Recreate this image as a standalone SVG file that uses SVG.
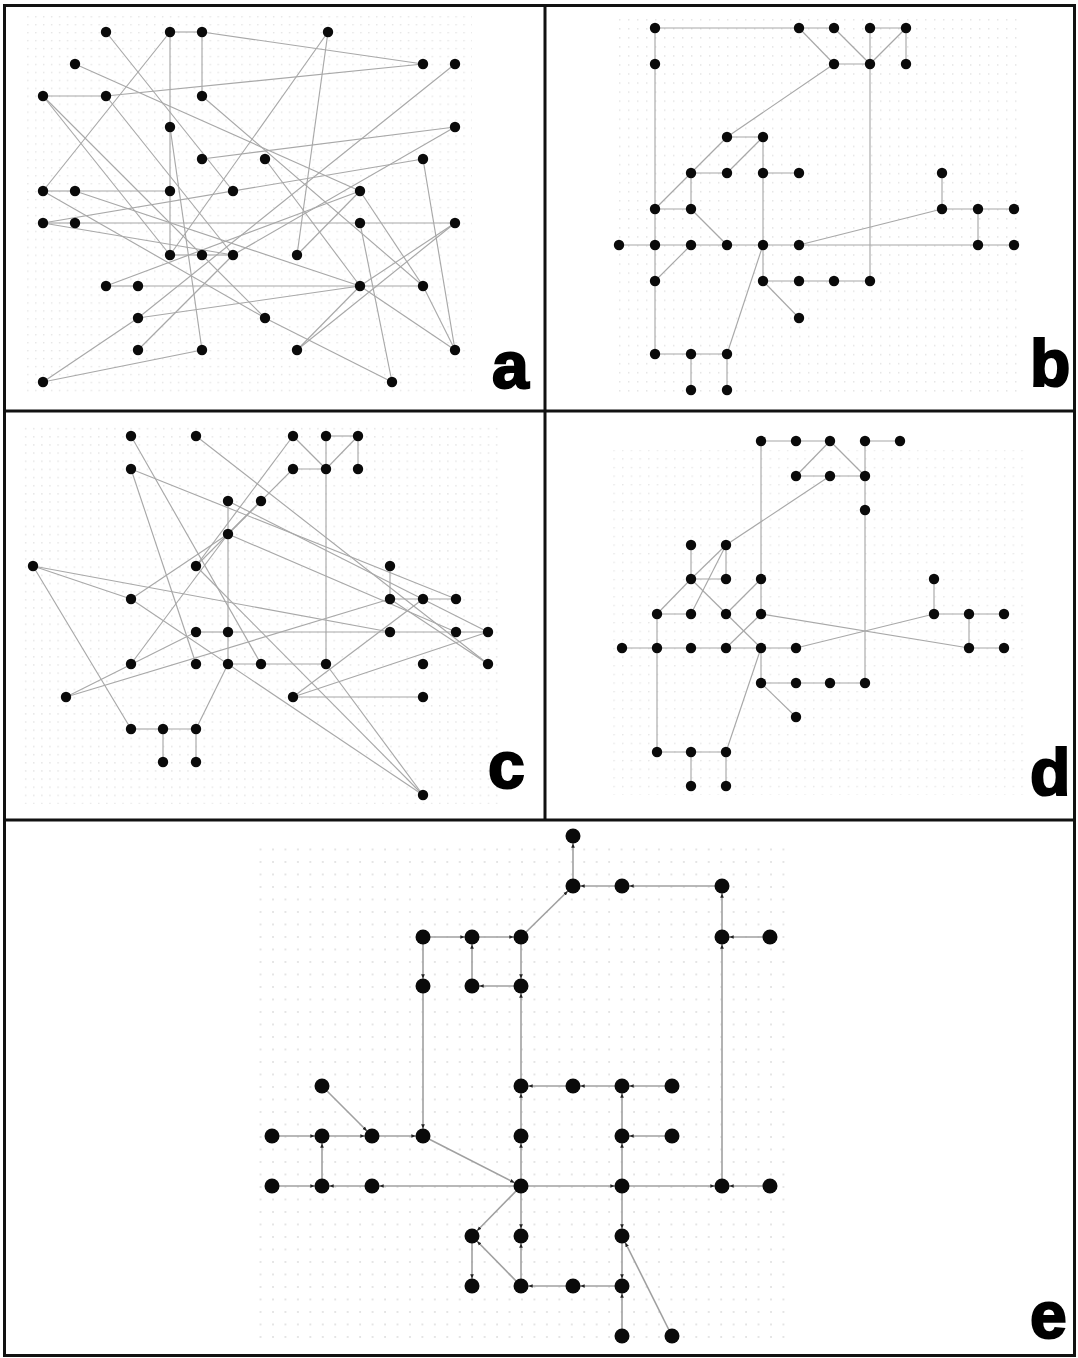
<svg xmlns="http://www.w3.org/2000/svg" width="1078" height="1358" viewBox="0 0 1078 1358">
<defs>
<style>
.ed{stroke:#a8a8a8;stroke-width:1.15;fill:none}
.ede{stroke:#a0a0a0;stroke-width:1.6;fill:none;marker-end:url(#arr)}
.nd circle{fill:#0a0a0a}
.lbl{font-family:"Liberation Sans",Arial,sans-serif;font-weight:bold;font-size:66px;fill:#000;stroke:#000;stroke-width:2.2}
.dv{stroke:#111;stroke-width:3}
</style>
<pattern id="pa" x="43" y="32" width="7.93" height="7.95" patternUnits="userSpaceOnUse"><circle cx="0.8" cy="0.8" r="0.7" fill="#dcdcdc"/></pattern>
<pattern id="pb" x="619" y="28" width="9" height="9.05" patternUnits="userSpaceOnUse"><circle cx="0.8" cy="0.8" r="0.7" fill="#dcdcdc"/></pattern>
<pattern id="pc" x="33" y="436" width="8.12" height="8.15" patternUnits="userSpaceOnUse"><circle cx="0.8" cy="0.8" r="0.7" fill="#dcdcdc"/></pattern>
<pattern id="pd" x="622" y="441" width="8.68" height="8.62" patternUnits="userSpaceOnUse"><circle cx="0.8" cy="0.8" r="0.7" fill="#dcdcdc"/></pattern>
<pattern id="pe" x="272" y="836" width="12.45" height="12.5" patternUnits="userSpaceOnUse"><circle cx="1" cy="1" r="0.9" fill="#dadada"/></pattern>
<marker id="arr" viewBox="0 0 10 10" refX="26" refY="5" markerWidth="4.5" markerHeight="4.5" markerUnits="userSpaceOnUse" orient="auto"><path d="M0,1 L10,5 L0,9 z" fill="#222"/></marker>
</defs>
<rect x="0" y="0" width="1078" height="1358" fill="#fff"/>
<g id="grids">
<rect x="22" y="16" width="450" height="380" fill="url(#pa)"/>
<rect x="612" y="18" width="412" height="378" fill="url(#pb)"/>
<rect x="20" y="426" width="482" height="378" fill="url(#pc)"/>
<rect x="612" y="450" width="412" height="345" fill="url(#pd)"/>
<rect x="255" y="842" width="535" height="505" fill="url(#pe)"/>
</g>
<g id="frame" fill="none">
<rect x="4.5" y="5.5" width="1070" height="1350" stroke="#111" stroke-width="3"/>
<line class="dv" x1="545" y1="5" x2="545" y2="820"/>
<line class="dv" x1="4" y1="411" x2="1075" y2="411"/>
<line class="dv" x1="4" y1="820" x2="1075" y2="820"/>
</g>

<g id="connectors-a" class="ed">
<line x1="170" y1="32" x2="202" y2="32"/>
<line x1="202" y1="32" x2="202" y2="96"/>
<line x1="170" y1="32" x2="170" y2="255"/>
<line x1="170" y1="32" x2="43" y2="191"/>
<line x1="106" y1="32" x2="233" y2="191"/>
<line x1="202" y1="32" x2="423" y2="64"/>
<line x1="75" y1="64" x2="360" y2="191"/>
<line x1="43" y1="96" x2="106" y2="96"/>
<line x1="106" y1="96" x2="423" y2="64"/>
<line x1="43" y1="96" x2="265" y2="318"/>
<line x1="43" y1="96" x2="170" y2="255"/>
<line x1="106" y1="96" x2="233" y2="255"/>
<line x1="202" y1="96" x2="423" y2="286"/>
<line x1="43" y1="191" x2="75" y2="191"/>
<line x1="75" y1="191" x2="170" y2="191"/>
<line x1="43" y1="223" x2="75" y2="223"/>
<line x1="75" y1="223" x2="360" y2="223"/>
<line x1="360" y1="223" x2="455" y2="223"/>
<line x1="170" y1="255" x2="202" y2="255"/>
<line x1="202" y1="255" x2="233" y2="255"/>
<line x1="106" y1="286" x2="138" y2="286"/>
<line x1="138" y1="286" x2="360" y2="286"/>
<line x1="360" y1="286" x2="423" y2="286"/>
<line x1="43" y1="382" x2="138" y2="318"/>
<line x1="43" y1="382" x2="202" y2="350"/>
<line x1="265" y1="318" x2="392" y2="382"/>
<line x1="328" y1="32" x2="170" y2="255"/>
<line x1="328" y1="32" x2="297" y2="255"/>
<line x1="455" y1="64" x2="138" y2="318"/>
<line x1="455" y1="127" x2="202" y2="159"/>
<line x1="455" y1="127" x2="233" y2="255"/>
<line x1="423" y1="159" x2="455" y2="350"/>
<line x1="360" y1="191" x2="423" y2="286"/>
<line x1="360" y1="191" x2="106" y2="286"/>
<line x1="360" y1="223" x2="392" y2="382"/>
<line x1="455" y1="223" x2="297" y2="350"/>
<line x1="423" y1="286" x2="455" y2="350"/>
<line x1="360" y1="286" x2="297" y2="350"/>
<line x1="360" y1="286" x2="455" y2="350"/>
<line x1="360" y1="286" x2="455" y2="223"/>
<line x1="138" y1="318" x2="360" y2="286"/>
<line x1="202" y1="350" x2="170" y2="127"/>
<line x1="138" y1="350" x2="233" y2="255"/>
<line x1="43" y1="191" x2="265" y2="318"/>
<line x1="75" y1="191" x2="360" y2="286"/>
<line x1="43" y1="223" x2="233" y2="255"/>
<line x1="265" y1="159" x2="360" y2="286"/>
<line x1="423" y1="159" x2="43" y2="223"/>
<line x1="297" y1="255" x2="360" y2="191"/>
</g>
<g id="nodes-a" class="nd">
<g id="a-n01"><circle cx="106" cy="32" r="5.2"/></g>
<g id="a-n02"><circle cx="170" cy="32" r="5.2"/></g>
<g id="a-n03"><circle cx="202" cy="32" r="5.2"/></g>
<g id="a-n04"><circle cx="328" cy="32" r="5.2"/></g>
<g id="a-n05"><circle cx="75" cy="64" r="5.2"/></g>
<g id="a-n06"><circle cx="423" cy="64" r="5.2"/></g>
<g id="a-n07"><circle cx="455" cy="64" r="5.2"/></g>
<g id="a-n08"><circle cx="43" cy="96" r="5.2"/></g>
<g id="a-n09"><circle cx="106" cy="96" r="5.2"/></g>
<g id="a-n10"><circle cx="202" cy="96" r="5.2"/></g>
<g id="a-n11"><circle cx="170" cy="127" r="5.2"/></g>
<g id="a-n12"><circle cx="455" cy="127" r="5.2"/></g>
<g id="a-n13"><circle cx="202" cy="159" r="5.2"/></g>
<g id="a-n14"><circle cx="265" cy="159" r="5.2"/></g>
<g id="a-n15"><circle cx="423" cy="159" r="5.2"/></g>
<g id="a-n16"><circle cx="43" cy="191" r="5.2"/></g>
<g id="a-n17"><circle cx="75" cy="191" r="5.2"/></g>
<g id="a-n18"><circle cx="170" cy="191" r="5.2"/></g>
<g id="a-n19"><circle cx="233" cy="191" r="5.2"/></g>
<g id="a-n20"><circle cx="360" cy="191" r="5.2"/></g>
<g id="a-n21"><circle cx="43" cy="223" r="5.2"/></g>
<g id="a-n22"><circle cx="75" cy="223" r="5.2"/></g>
<g id="a-n23"><circle cx="360" cy="223" r="5.2"/></g>
<g id="a-n24"><circle cx="455" cy="223" r="5.2"/></g>
<g id="a-n25"><circle cx="170" cy="255" r="5.2"/></g>
<g id="a-n26"><circle cx="202" cy="255" r="5.2"/></g>
<g id="a-n27"><circle cx="233" cy="255" r="5.2"/></g>
<g id="a-n28"><circle cx="297" cy="255" r="5.2"/></g>
<g id="a-n29"><circle cx="106" cy="286" r="5.2"/></g>
<g id="a-n30"><circle cx="138" cy="286" r="5.2"/></g>
<g id="a-n31"><circle cx="360" cy="286" r="5.2"/></g>
<g id="a-n32"><circle cx="423" cy="286" r="5.2"/></g>
<g id="a-n33"><circle cx="138" cy="318" r="5.2"/></g>
<g id="a-n34"><circle cx="265" cy="318" r="5.2"/></g>
<g id="a-n35"><circle cx="138" cy="350" r="5.2"/></g>
<g id="a-n36"><circle cx="202" cy="350" r="5.2"/></g>
<g id="a-n37"><circle cx="297" cy="350" r="5.2"/></g>
<g id="a-n38"><circle cx="455" cy="350" r="5.2"/></g>
<g id="a-n39"><circle cx="43" cy="382" r="5.2"/></g>
<g id="a-n40"><circle cx="392" cy="382" r="5.2"/></g>
</g>
<text class="lbl" x="492" y="388">a</text>

<g id="connectors-b" class="ed">
<line x1="655" y1="28" x2="799" y2="28"/>
<line x1="655" y1="28" x2="655" y2="354"/>
<line x1="799" y1="28" x2="834" y2="28"/>
<line x1="799" y1="28" x2="834" y2="64"/>
<line x1="834" y1="28" x2="870" y2="64"/>
<line x1="870" y1="28" x2="906" y2="28"/>
<line x1="870" y1="28" x2="870" y2="281"/>
<line x1="906" y1="28" x2="906" y2="64"/>
<line x1="906" y1="28" x2="870" y2="64"/>
<line x1="834" y1="64" x2="870" y2="64"/>
<line x1="834" y1="64" x2="727" y2="137"/>
<line x1="727" y1="137" x2="763" y2="137"/>
<line x1="727" y1="137" x2="655" y2="209"/>
<line x1="763" y1="137" x2="727" y2="173"/>
<line x1="763" y1="137" x2="763" y2="281"/>
<line x1="691" y1="173" x2="727" y2="173"/>
<line x1="763" y1="173" x2="799" y2="173"/>
<line x1="691" y1="173" x2="691" y2="209"/>
<line x1="655" y1="209" x2="691" y2="209"/>
<line x1="691" y1="209" x2="727" y2="245"/>
<line x1="942" y1="173" x2="942" y2="209"/>
<line x1="942" y1="209" x2="1014" y2="209"/>
<line x1="978" y1="209" x2="978" y2="245"/>
<line x1="978" y1="245" x2="1014" y2="245"/>
<line x1="799" y1="245" x2="942" y2="209"/>
<line x1="619" y1="245" x2="799" y2="245"/>
<line x1="799" y1="245" x2="978" y2="245"/>
<line x1="655" y1="281" x2="691" y2="245"/>
<line x1="763" y1="281" x2="870" y2="281"/>
<line x1="763" y1="281" x2="799" y2="318"/>
<line x1="763" y1="245" x2="727" y2="354"/>
<line x1="655" y1="354" x2="727" y2="354"/>
<line x1="691" y1="354" x2="691" y2="390"/>
<line x1="727" y1="354" x2="727" y2="390"/>
</g>
<g id="nodes-b" class="nd">
<g id="b-n01"><circle cx="655" cy="28" r="5.2"/></g>
<g id="b-n02"><circle cx="799" cy="28" r="5.2"/></g>
<g id="b-n03"><circle cx="834" cy="28" r="5.2"/></g>
<g id="b-n04"><circle cx="870" cy="28" r="5.2"/></g>
<g id="b-n05"><circle cx="906" cy="28" r="5.2"/></g>
<g id="b-n06"><circle cx="655" cy="64" r="5.2"/></g>
<g id="b-n07"><circle cx="834" cy="64" r="5.2"/></g>
<g id="b-n08"><circle cx="870" cy="64" r="5.2"/></g>
<g id="b-n09"><circle cx="906" cy="64" r="5.2"/></g>
<g id="b-n10"><circle cx="727" cy="137" r="5.2"/></g>
<g id="b-n11"><circle cx="763" cy="137" r="5.2"/></g>
<g id="b-n12"><circle cx="691" cy="173" r="5.2"/></g>
<g id="b-n13"><circle cx="727" cy="173" r="5.2"/></g>
<g id="b-n14"><circle cx="763" cy="173" r="5.2"/></g>
<g id="b-n15"><circle cx="799" cy="173" r="5.2"/></g>
<g id="b-n16"><circle cx="942" cy="173" r="5.2"/></g>
<g id="b-n17"><circle cx="655" cy="209" r="5.2"/></g>
<g id="b-n18"><circle cx="691" cy="209" r="5.2"/></g>
<g id="b-n19"><circle cx="942" cy="209" r="5.2"/></g>
<g id="b-n20"><circle cx="978" cy="209" r="5.2"/></g>
<g id="b-n21"><circle cx="1014" cy="209" r="5.2"/></g>
<g id="b-n22"><circle cx="619" cy="245" r="5.2"/></g>
<g id="b-n23"><circle cx="655" cy="245" r="5.2"/></g>
<g id="b-n24"><circle cx="691" cy="245" r="5.2"/></g>
<g id="b-n25"><circle cx="727" cy="245" r="5.2"/></g>
<g id="b-n26"><circle cx="763" cy="245" r="5.2"/></g>
<g id="b-n27"><circle cx="799" cy="245" r="5.2"/></g>
<g id="b-n28"><circle cx="978" cy="245" r="5.2"/></g>
<g id="b-n29"><circle cx="1014" cy="245" r="5.2"/></g>
<g id="b-n30"><circle cx="655" cy="281" r="5.2"/></g>
<g id="b-n31"><circle cx="763" cy="281" r="5.2"/></g>
<g id="b-n32"><circle cx="799" cy="281" r="5.2"/></g>
<g id="b-n33"><circle cx="834" cy="281" r="5.2"/></g>
<g id="b-n34"><circle cx="870" cy="281" r="5.2"/></g>
<g id="b-n35"><circle cx="799" cy="318" r="5.2"/></g>
<g id="b-n36"><circle cx="655" cy="354" r="5.2"/></g>
<g id="b-n37"><circle cx="691" cy="354" r="5.2"/></g>
<g id="b-n38"><circle cx="727" cy="354" r="5.2"/></g>
<g id="b-n39"><circle cx="691" cy="390" r="5.2"/></g>
<g id="b-n40"><circle cx="727" cy="390" r="5.2"/></g>
</g>
<text class="lbl" x="1030" y="386">b</text>

<g id="connectors-c" class="ed">
<line x1="326" y1="436" x2="358" y2="436"/>
<line x1="358" y1="436" x2="358" y2="469"/>
<line x1="358" y1="436" x2="326" y2="469"/>
<line x1="293" y1="436" x2="326" y2="469"/>
<line x1="293" y1="469" x2="326" y2="469"/>
<line x1="326" y1="436" x2="326" y2="664"/>
<line x1="228" y1="664" x2="261" y2="664"/>
<line x1="261" y1="664" x2="326" y2="664"/>
<line x1="228" y1="501" x2="228" y2="664"/>
<line x1="196" y1="632" x2="228" y2="632"/>
<line x1="228" y1="632" x2="390" y2="632"/>
<line x1="390" y1="632" x2="456" y2="632"/>
<line x1="456" y1="632" x2="488" y2="632"/>
<line x1="390" y1="566" x2="390" y2="599"/>
<line x1="390" y1="599" x2="423" y2="599"/>
<line x1="423" y1="599" x2="456" y2="599"/>
<line x1="131" y1="729" x2="163" y2="729"/>
<line x1="163" y1="729" x2="196" y2="729"/>
<line x1="163" y1="729" x2="163" y2="762"/>
<line x1="196" y1="729" x2="196" y2="762"/>
<line x1="33" y1="566" x2="131" y2="729"/>
<line x1="33" y1="566" x2="390" y2="632"/>
<line x1="33" y1="566" x2="131" y2="599"/>
<line x1="196" y1="729" x2="228" y2="664"/>
<line x1="66" y1="697" x2="390" y2="599"/>
<line x1="131" y1="664" x2="228" y2="534"/>
<line x1="131" y1="599" x2="228" y2="534"/>
<line x1="131" y1="599" x2="423" y2="795"/>
<line x1="131" y1="436" x2="261" y2="664"/>
<line x1="131" y1="469" x2="196" y2="664"/>
<line x1="131" y1="469" x2="456" y2="599"/>
<line x1="196" y1="436" x2="488" y2="664"/>
<line x1="196" y1="566" x2="293" y2="436"/>
<line x1="196" y1="566" x2="423" y2="795"/>
<line x1="293" y1="697" x2="423" y2="599"/>
<line x1="293" y1="697" x2="488" y2="632"/>
<line x1="293" y1="697" x2="423" y2="697"/>
<line x1="261" y1="501" x2="228" y2="534"/>
<line x1="261" y1="501" x2="196" y2="566"/>
<line x1="228" y1="534" x2="293" y2="469"/>
<line x1="228" y1="534" x2="456" y2="632"/>
<line x1="228" y1="501" x2="488" y2="632"/>
<line x1="66" y1="697" x2="196" y2="632"/>
<line x1="326" y1="664" x2="423" y2="795"/>
<line x1="390" y1="599" x2="488" y2="664"/>
</g>
<g id="nodes-c" class="nd">
<g id="c-n01"><circle cx="131" cy="436" r="5.2"/></g>
<g id="c-n02"><circle cx="196" cy="436" r="5.2"/></g>
<g id="c-n03"><circle cx="293" cy="436" r="5.2"/></g>
<g id="c-n04"><circle cx="326" cy="436" r="5.2"/></g>
<g id="c-n05"><circle cx="358" cy="436" r="5.2"/></g>
<g id="c-n06"><circle cx="131" cy="469" r="5.2"/></g>
<g id="c-n07"><circle cx="293" cy="469" r="5.2"/></g>
<g id="c-n08"><circle cx="326" cy="469" r="5.2"/></g>
<g id="c-n09"><circle cx="358" cy="469" r="5.2"/></g>
<g id="c-n10"><circle cx="228" cy="501" r="5.2"/></g>
<g id="c-n11"><circle cx="261" cy="501" r="5.2"/></g>
<g id="c-n12"><circle cx="228" cy="534" r="5.2"/></g>
<g id="c-n13"><circle cx="33" cy="566" r="5.2"/></g>
<g id="c-n14"><circle cx="196" cy="566" r="5.2"/></g>
<g id="c-n15"><circle cx="390" cy="566" r="5.2"/></g>
<g id="c-n16"><circle cx="131" cy="599" r="5.2"/></g>
<g id="c-n17"><circle cx="390" cy="599" r="5.2"/></g>
<g id="c-n18"><circle cx="423" cy="599" r="5.2"/></g>
<g id="c-n19"><circle cx="456" cy="599" r="5.2"/></g>
<g id="c-n20"><circle cx="196" cy="632" r="5.2"/></g>
<g id="c-n21"><circle cx="228" cy="632" r="5.2"/></g>
<g id="c-n22"><circle cx="390" cy="632" r="5.2"/></g>
<g id="c-n23"><circle cx="456" cy="632" r="5.2"/></g>
<g id="c-n24"><circle cx="488" cy="632" r="5.2"/></g>
<g id="c-n25"><circle cx="131" cy="664" r="5.2"/></g>
<g id="c-n26"><circle cx="196" cy="664" r="5.2"/></g>
<g id="c-n27"><circle cx="228" cy="664" r="5.2"/></g>
<g id="c-n28"><circle cx="261" cy="664" r="5.2"/></g>
<g id="c-n29"><circle cx="326" cy="664" r="5.2"/></g>
<g id="c-n30"><circle cx="423" cy="664" r="5.2"/></g>
<g id="c-n31"><circle cx="488" cy="664" r="5.2"/></g>
<g id="c-n32"><circle cx="66" cy="697" r="5.2"/></g>
<g id="c-n33"><circle cx="293" cy="697" r="5.2"/></g>
<g id="c-n34"><circle cx="423" cy="697" r="5.2"/></g>
<g id="c-n35"><circle cx="131" cy="729" r="5.2"/></g>
<g id="c-n36"><circle cx="163" cy="729" r="5.2"/></g>
<g id="c-n37"><circle cx="196" cy="729" r="5.2"/></g>
<g id="c-n38"><circle cx="163" cy="762" r="5.2"/></g>
<g id="c-n39"><circle cx="196" cy="762" r="5.2"/></g>
<g id="c-n40"><circle cx="423" cy="795" r="5.2"/></g>
</g>
<text class="lbl" x="488" y="788">c</text>

<g id="connectors-d" class="ed">
<line x1="761" y1="441" x2="830" y2="441"/>
<line x1="865" y1="441" x2="900" y2="441"/>
<line x1="830" y1="441" x2="796" y2="476"/>
<line x1="830" y1="441" x2="865" y2="476"/>
<line x1="796" y1="476" x2="865" y2="476"/>
<line x1="865" y1="441" x2="865" y2="683"/>
<line x1="761" y1="441" x2="761" y2="614"/>
<line x1="830" y1="476" x2="726" y2="545"/>
<line x1="691" y1="545" x2="691" y2="579"/>
<line x1="726" y1="545" x2="726" y2="579"/>
<line x1="657" y1="614" x2="691" y2="579"/>
<line x1="691" y1="579" x2="726" y2="545"/>
<line x1="691" y1="614" x2="726" y2="545"/>
<line x1="691" y1="579" x2="726" y2="579"/>
<line x1="691" y1="579" x2="761" y2="648"/>
<line x1="761" y1="579" x2="726" y2="614"/>
<line x1="657" y1="614" x2="691" y2="614"/>
<line x1="761" y1="614" x2="969" y2="648"/>
<line x1="796" y1="648" x2="934" y2="614"/>
<line x1="934" y1="579" x2="934" y2="614"/>
<line x1="934" y1="614" x2="1004" y2="614"/>
<line x1="969" y1="614" x2="969" y2="648"/>
<line x1="969" y1="648" x2="1004" y2="648"/>
<line x1="622" y1="648" x2="796" y2="648"/>
<line x1="657" y1="614" x2="657" y2="752"/>
<line x1="726" y1="648" x2="761" y2="614"/>
<line x1="761" y1="648" x2="761" y2="683"/>
<line x1="761" y1="683" x2="865" y2="683"/>
<line x1="761" y1="683" x2="796" y2="717"/>
<line x1="761" y1="648" x2="726" y2="752"/>
<line x1="657" y1="752" x2="726" y2="752"/>
<line x1="691" y1="752" x2="691" y2="786"/>
<line x1="726" y1="752" x2="726" y2="786"/>
</g>
<g id="nodes-d" class="nd">
<g id="d-n01"><circle cx="761" cy="441" r="5.2"/></g>
<g id="d-n02"><circle cx="796" cy="441" r="5.2"/></g>
<g id="d-n03"><circle cx="830" cy="441" r="5.2"/></g>
<g id="d-n04"><circle cx="865" cy="441" r="5.2"/></g>
<g id="d-n05"><circle cx="900" cy="441" r="5.2"/></g>
<g id="d-n06"><circle cx="796" cy="476" r="5.2"/></g>
<g id="d-n07"><circle cx="830" cy="476" r="5.2"/></g>
<g id="d-n08"><circle cx="865" cy="476" r="5.2"/></g>
<g id="d-n09"><circle cx="865" cy="510" r="5.2"/></g>
<g id="d-n10"><circle cx="691" cy="545" r="5.2"/></g>
<g id="d-n11"><circle cx="726" cy="545" r="5.2"/></g>
<g id="d-n12"><circle cx="691" cy="579" r="5.2"/></g>
<g id="d-n13"><circle cx="726" cy="579" r="5.2"/></g>
<g id="d-n14"><circle cx="761" cy="579" r="5.2"/></g>
<g id="d-n15"><circle cx="934" cy="579" r="5.2"/></g>
<g id="d-n16"><circle cx="657" cy="614" r="5.2"/></g>
<g id="d-n17"><circle cx="691" cy="614" r="5.2"/></g>
<g id="d-n18"><circle cx="726" cy="614" r="5.2"/></g>
<g id="d-n19"><circle cx="761" cy="614" r="5.2"/></g>
<g id="d-n20"><circle cx="934" cy="614" r="5.2"/></g>
<g id="d-n21"><circle cx="969" cy="614" r="5.2"/></g>
<g id="d-n22"><circle cx="1004" cy="614" r="5.2"/></g>
<g id="d-n23"><circle cx="622" cy="648" r="5.2"/></g>
<g id="d-n24"><circle cx="657" cy="648" r="5.2"/></g>
<g id="d-n25"><circle cx="691" cy="648" r="5.2"/></g>
<g id="d-n26"><circle cx="726" cy="648" r="5.2"/></g>
<g id="d-n27"><circle cx="761" cy="648" r="5.2"/></g>
<g id="d-n28"><circle cx="796" cy="648" r="5.2"/></g>
<g id="d-n29"><circle cx="969" cy="648" r="5.2"/></g>
<g id="d-n30"><circle cx="1004" cy="648" r="5.2"/></g>
<g id="d-n31"><circle cx="761" cy="683" r="5.2"/></g>
<g id="d-n32"><circle cx="796" cy="683" r="5.2"/></g>
<g id="d-n33"><circle cx="830" cy="683" r="5.2"/></g>
<g id="d-n34"><circle cx="865" cy="683" r="5.2"/></g>
<g id="d-n35"><circle cx="796" cy="717" r="5.2"/></g>
<g id="d-n36"><circle cx="657" cy="752" r="5.2"/></g>
<g id="d-n37"><circle cx="691" cy="752" r="5.2"/></g>
<g id="d-n38"><circle cx="726" cy="752" r="5.2"/></g>
<g id="d-n39"><circle cx="691" cy="786" r="5.2"/></g>
<g id="d-n40"><circle cx="726" cy="786" r="5.2"/></g>
</g>
<text class="lbl" x="1030" y="795">d</text>

<g id="connectors-e" class="ede">
<line x1="573" y1="886" x2="573" y2="836"/>
<line x1="622" y1="886" x2="573" y2="886"/>
<line x1="722" y1="886" x2="622" y2="886"/>
<line x1="521" y1="937" x2="573" y2="886"/>
<line x1="423" y1="937" x2="472" y2="937"/>
<line x1="472" y1="937" x2="521" y2="937"/>
<line x1="423" y1="937" x2="423" y2="986"/>
<line x1="472" y1="986" x2="472" y2="937"/>
<line x1="521" y1="986" x2="472" y2="986"/>
<line x1="521" y1="937" x2="521" y2="986"/>
<line x1="521" y1="1086" x2="521" y2="986"/>
<line x1="423" y1="986" x2="423" y2="1136"/>
<line x1="722" y1="937" x2="722" y2="886"/>
<line x1="770" y1="937" x2="722" y2="937"/>
<line x1="722" y1="1186" x2="722" y2="937"/>
<line x1="322" y1="1086" x2="372" y2="1136"/>
<line x1="573" y1="1086" x2="521" y2="1086"/>
<line x1="622" y1="1086" x2="573" y2="1086"/>
<line x1="672" y1="1086" x2="622" y2="1086"/>
<line x1="521" y1="1136" x2="521" y2="1086"/>
<line x1="521" y1="1186" x2="521" y2="1136"/>
<line x1="622" y1="1136" x2="622" y2="1086"/>
<line x1="622" y1="1186" x2="622" y2="1136"/>
<line x1="672" y1="1136" x2="622" y2="1136"/>
<line x1="272" y1="1136" x2="322" y2="1136"/>
<line x1="322" y1="1136" x2="372" y2="1136"/>
<line x1="372" y1="1136" x2="423" y2="1136"/>
<line x1="322" y1="1186" x2="322" y2="1136"/>
<line x1="423" y1="1136" x2="521" y2="1186"/>
<line x1="272" y1="1186" x2="322" y2="1186"/>
<line x1="372" y1="1186" x2="322" y2="1186"/>
<line x1="521" y1="1186" x2="372" y2="1186"/>
<line x1="521" y1="1186" x2="622" y2="1186"/>
<line x1="622" y1="1186" x2="722" y2="1186"/>
<line x1="770" y1="1186" x2="722" y2="1186"/>
<line x1="521" y1="1186" x2="472" y2="1236"/>
<line x1="521" y1="1186" x2="521" y2="1236"/>
<line x1="521" y1="1286" x2="521" y2="1236"/>
<line x1="472" y1="1236" x2="472" y2="1286"/>
<line x1="521" y1="1286" x2="472" y2="1236"/>
<line x1="573" y1="1286" x2="521" y2="1286"/>
<line x1="622" y1="1286" x2="573" y2="1286"/>
<line x1="622" y1="1186" x2="622" y2="1236"/>
<line x1="622" y1="1236" x2="622" y2="1286"/>
<line x1="622" y1="1336" x2="622" y2="1286"/>
<line x1="672" y1="1336" x2="622" y2="1236"/>
</g>
<g id="nodes-e" class="nd">
<g id="e-n01"><circle cx="573" cy="836" r="7.5"/></g>
<g id="e-n02"><circle cx="573" cy="886" r="7.5"/></g>
<g id="e-n03"><circle cx="622" cy="886" r="7.5"/></g>
<g id="e-n04"><circle cx="722" cy="886" r="7.5"/></g>
<g id="e-n05"><circle cx="423" cy="937" r="7.5"/></g>
<g id="e-n06"><circle cx="472" cy="937" r="7.5"/></g>
<g id="e-n07"><circle cx="521" cy="937" r="7.5"/></g>
<g id="e-n08"><circle cx="722" cy="937" r="7.5"/></g>
<g id="e-n09"><circle cx="770" cy="937" r="7.5"/></g>
<g id="e-n10"><circle cx="423" cy="986" r="7.5"/></g>
<g id="e-n11"><circle cx="472" cy="986" r="7.5"/></g>
<g id="e-n12"><circle cx="521" cy="986" r="7.5"/></g>
<g id="e-n13"><circle cx="322" cy="1086" r="7.5"/></g>
<g id="e-n14"><circle cx="521" cy="1086" r="7.5"/></g>
<g id="e-n15"><circle cx="573" cy="1086" r="7.5"/></g>
<g id="e-n16"><circle cx="622" cy="1086" r="7.5"/></g>
<g id="e-n17"><circle cx="672" cy="1086" r="7.5"/></g>
<g id="e-n18"><circle cx="272" cy="1136" r="7.5"/></g>
<g id="e-n19"><circle cx="322" cy="1136" r="7.5"/></g>
<g id="e-n20"><circle cx="372" cy="1136" r="7.5"/></g>
<g id="e-n21"><circle cx="423" cy="1136" r="7.5"/></g>
<g id="e-n22"><circle cx="521" cy="1136" r="7.5"/></g>
<g id="e-n23"><circle cx="622" cy="1136" r="7.5"/></g>
<g id="e-n24"><circle cx="672" cy="1136" r="7.5"/></g>
<g id="e-n25"><circle cx="272" cy="1186" r="7.5"/></g>
<g id="e-n26"><circle cx="322" cy="1186" r="7.5"/></g>
<g id="e-n27"><circle cx="372" cy="1186" r="7.5"/></g>
<g id="e-n28"><circle cx="521" cy="1186" r="7.5"/></g>
<g id="e-n29"><circle cx="622" cy="1186" r="7.5"/></g>
<g id="e-n30"><circle cx="722" cy="1186" r="7.5"/></g>
<g id="e-n31"><circle cx="770" cy="1186" r="7.5"/></g>
<g id="e-n32"><circle cx="472" cy="1236" r="7.5"/></g>
<g id="e-n33"><circle cx="521" cy="1236" r="7.5"/></g>
<g id="e-n34"><circle cx="622" cy="1236" r="7.5"/></g>
<g id="e-n35"><circle cx="472" cy="1286" r="7.5"/></g>
<g id="e-n36"><circle cx="521" cy="1286" r="7.5"/></g>
<g id="e-n37"><circle cx="573" cy="1286" r="7.5"/></g>
<g id="e-n38"><circle cx="622" cy="1286" r="7.5"/></g>
<g id="e-n39"><circle cx="622" cy="1336" r="7.5"/></g>
<g id="e-n40"><circle cx="672" cy="1336" r="7.5"/></g>
</g>
<text class="lbl" x="1030" y="1338">e</text>
</svg>
